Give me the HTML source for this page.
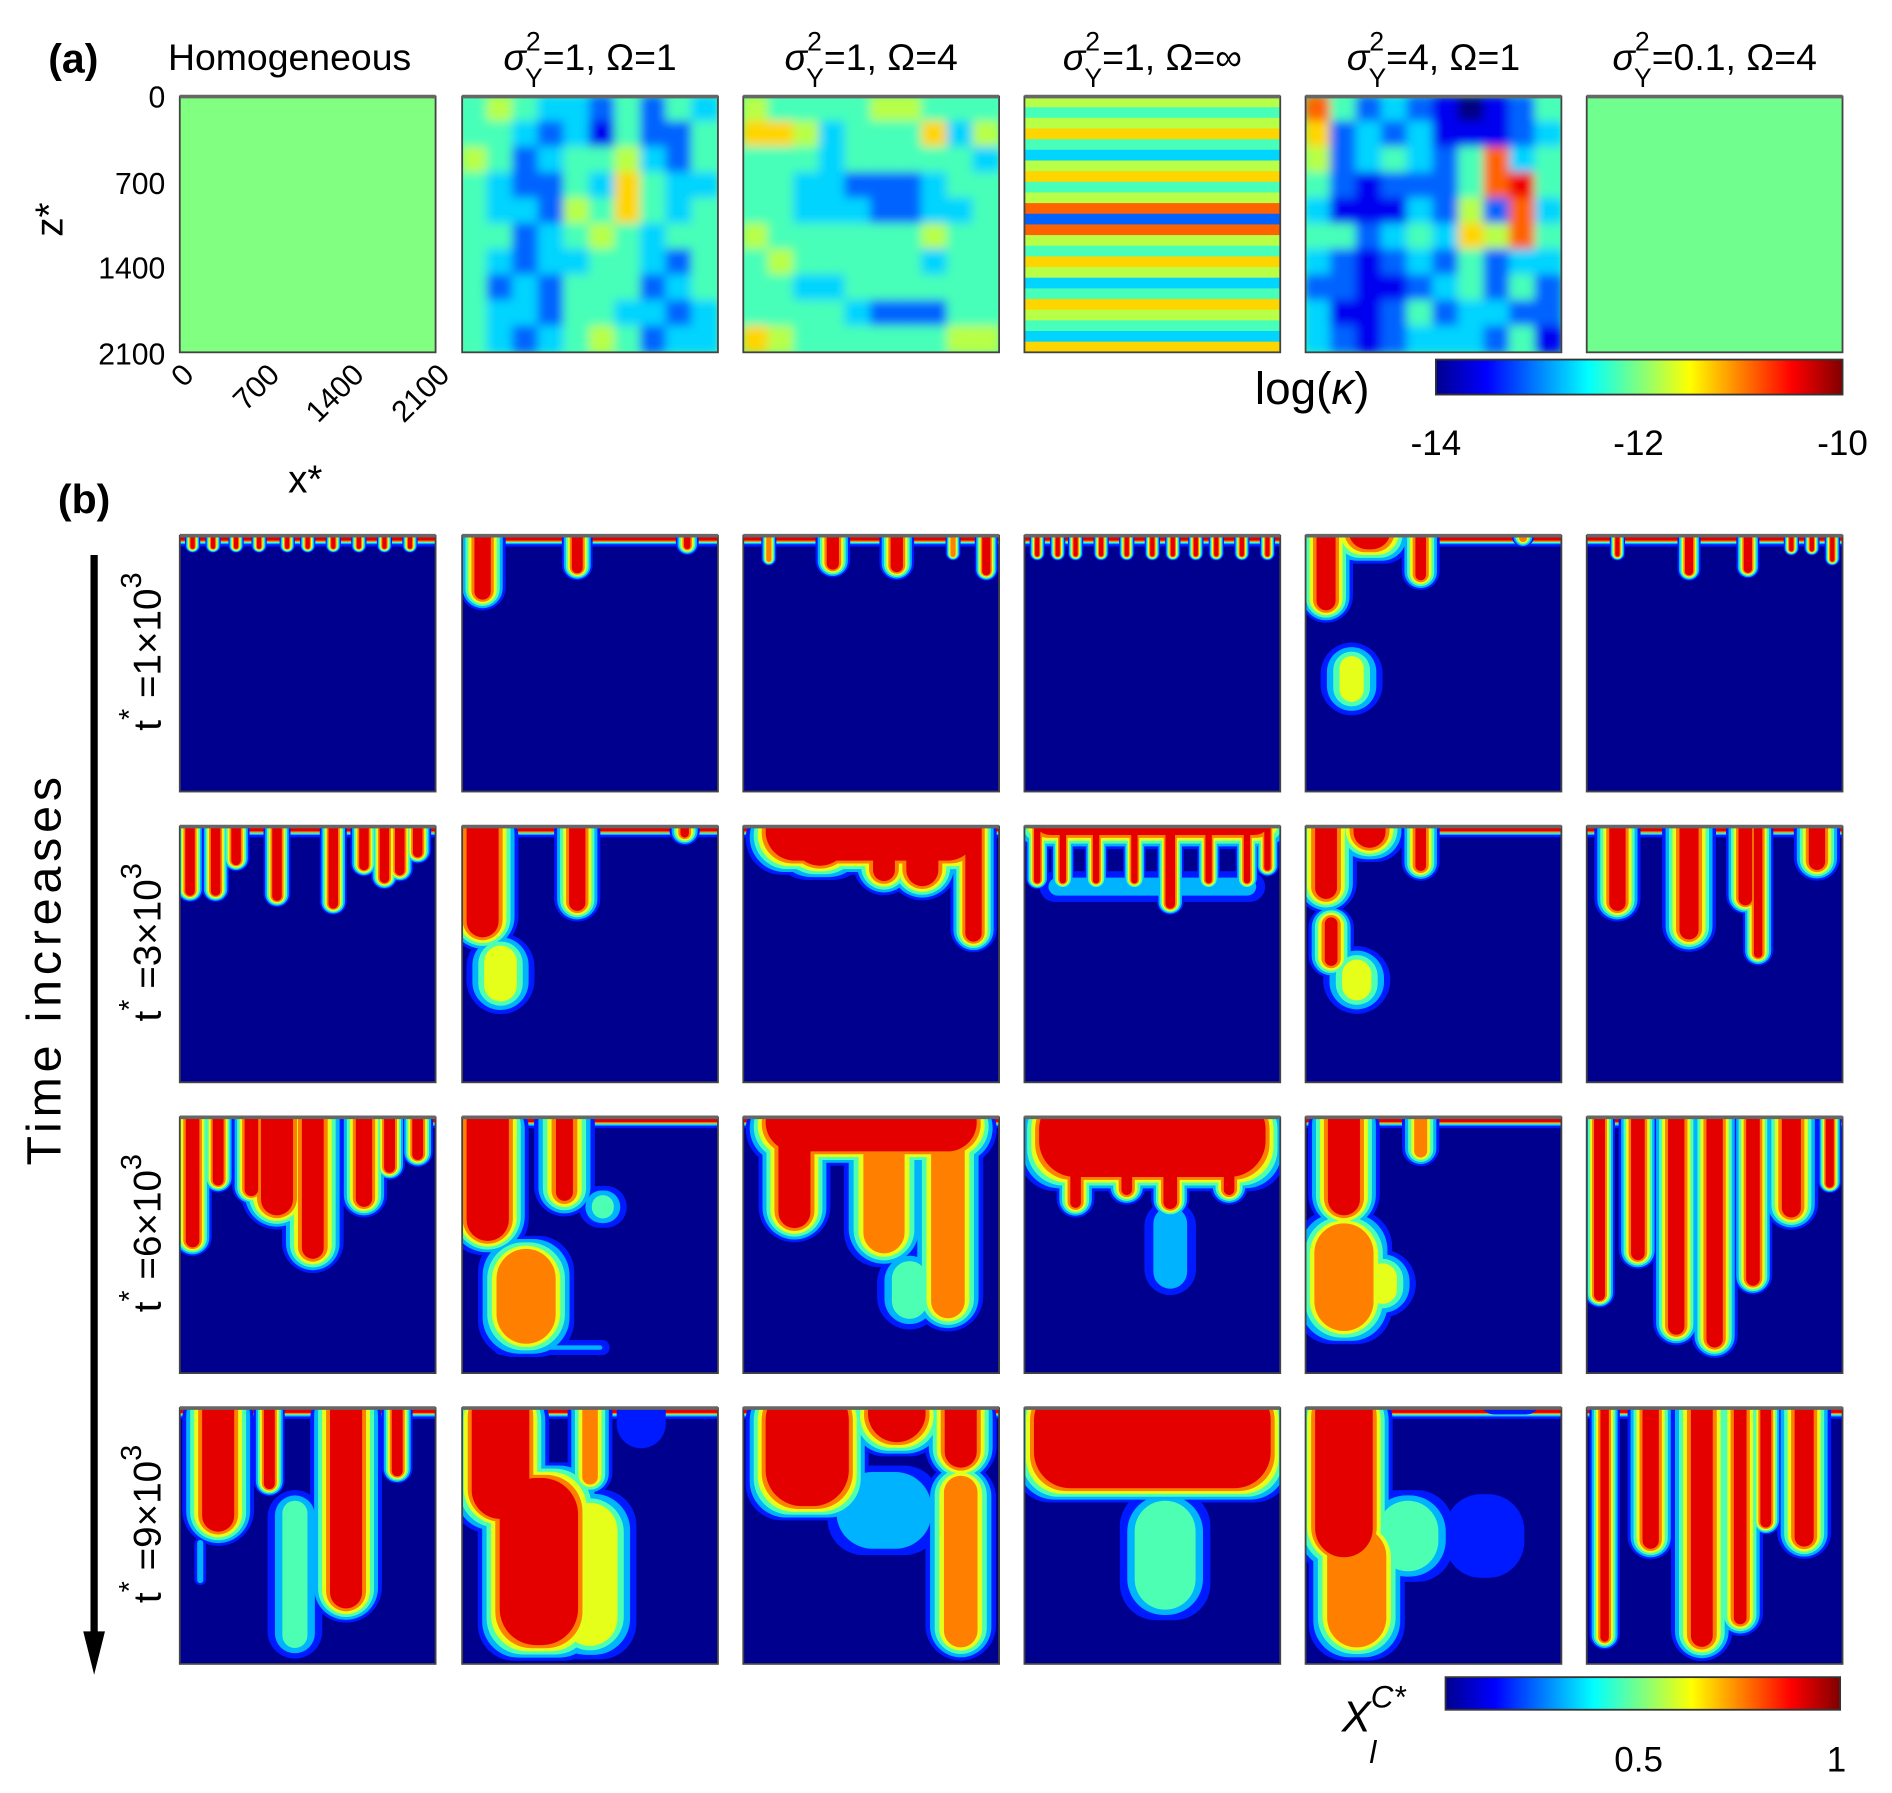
<!DOCTYPE html>
<html><head><meta charset="utf-8"><style>
html,body{margin:0;padding:0;background:#fff}
svg{display:block;font-family:"Liberation Sans",sans-serif}
</style></head><body>
<svg id="fig" width="1892" height="1793" viewBox="0 0 1568 1486" preserveAspectRatio="none" xmlns="http://www.w3.org/2000/svg">
<defs>
<linearGradient id="jetgrad" x1="0" x2="1" y1="0" y2="0">
<stop offset="0" stop-color="#00008f"/><stop offset="0.125" stop-color="#0000ff"/><stop offset="0.375" stop-color="#00ffff"/><stop offset="0.625" stop-color="#ffff00"/><stop offset="0.875" stop-color="#ff0000"/><stop offset="1" stop-color="#800000"/>
</linearGradient>
<filter id="soft" x="-5%" y="-5%" width="110%" height="110%"><feGaussianBlur stdDeviation="4"/></filter>
</defs>
<g id="panelsA"></g>
<g id="panelsB"></g>

<text x="40" y="60" font-size="34" font-weight="bold">(a)</text>
<text x="48" y="425" font-size="34" font-weight="bold">(b)</text>
<text x="240" y="58" font-size="31" text-anchor="middle">Homogeneous</text>
<g id="titles" font-size="31"></g>

<text transform="translate(52,182) rotate(-90)" font-size="32" text-anchor="middle">z*</text>
<g font-size="25" text-anchor="end">
<text x="137" y="89">0</text><text x="137" y="161">700</text><text x="137" y="231">1400</text><text x="137" y="302">2100</text>
</g>
<g font-size="25" text-anchor="end">
<text transform="translate(162,312) rotate(-45)">0</text>
<text transform="translate(233,312) rotate(-45)">700</text>
<text transform="translate(303,312) rotate(-45)">1400</text>
<text transform="translate(374,312) rotate(-45)">2100</text>
</g>
<text x="253" y="408" font-size="32" text-anchor="middle">x*</text>

<text x="1040" y="335" font-size="38">log(<tspan font-style="italic">κ</tspan>)</text>
<rect x="1190" y="298" width="337" height="29" fill="url(#jetgrad)" stroke="#333" stroke-width="1.5"/>
<g font-size="29" text-anchor="middle">
<text x="1190" y="377">-14</text><text x="1358" y="377">-12</text><text x="1527" y="377">-10</text>
</g>

<text x="1112" y="1435" font-size="36" font-style="italic">X<tspan font-size="26" dy="-20">C*</tspan><tspan font-size="26" dx="-30" dy="46">l</tspan></text>
<rect x="1198" y="1390" width="327" height="27" fill="url(#jetgrad)" stroke="#333" stroke-width="1.5"/>
<g font-size="29" text-anchor="middle">
<text x="1358" y="1468">0.5</text><text x="1522" y="1468">1</text>
</g>

<text transform="translate(50,805) rotate(-90)" font-size="40" text-anchor="middle" textLength="322">Time increases</text>
<line x1="78" y1="460" x2="78" y2="1360" stroke="#000" stroke-width="6"/>
<polygon points="69,1352 87,1352 78,1388" fill="#000"/>
<g id="rowlabels" font-size="32"></g>
</svg>
<script>
// ---------- data ----------
const columnTitles = ["=1, Ω=1","=1, Ω=4","=1, Ω=∞","=4, Ω=1","=0.1, Ω=4"];
const timeLabels = ["1","3","6","9"];
const fieldS1O1 = ["4543324243","4432314224","5423445324","4322436433","4332546434","4423454344","4323344324","4232444234","4332443323","4323454233"];
const fieldS1O4 = ["5444455444","6653444635","4443444443","4433222344","4433322334","5444444544","4544444344","4433444444","4444322244","6544444455"];
const fieldS4O1 = ["7423210124","6232311123","5234324734","4212224784","3111325273","4423436574","3212324233","2211234242","3112423322","3212333241"];
const fieldS01O4 = ["4444444444","4444444444","4444444444","4444444444","4444444444","4444444444","4444444444","4444444444","4444444444","4444444444"];
const stripesSInf = [5,4,5,6,4,3,5,6,4,5,7,2,7,5,4,6,5,3,4,6,5,4,3,6];
const homogeneousValue = 0.5;
// fingers: [xCenter, yStart, yEnd, halfWidth, maxLevel] as panel fractions
const fingersT1 = [
 [[.05,0,.07,.02,.9],[.13,0,.07,.02,.9],[.22,0,.07,.02,.9],[.31,0,.07,.02,.9],[.42,0,.07,.02,.9],[.5,0,.07,.02,.9],[.6,0,.07,.02,.9],[.7,0,.07,.02,.9],[.8,0,.07,.02,.9],[.9,0,.07,.02,.9]],
 [[.08,0,.3,.06,1],[.45,0,.18,.04,1],[.88,0,.08,.03,.9]],
 [[.1,0,.12,.02,.8],[.35,0,.17,.045,1],[.6,0,.18,.045,1],[.82,0,.1,.02,.8],[.95,0,.18,.03,1]],
 [[.05,0,.1,.02,.9],[.13,0,.1,.02,.9],[.2,0,.1,.02,.9],[.3,0,.1,.02,.9],[.4,0,.1,.02,.9],[.5,0,.1,.02,.9],[.58,0,.1,.02,.9],[.67,0,.1,.02,.9],[.75,0,.1,.02,.9],[.85,0,.1,.02,.9],[.95,0,.1,.02,.9]],
 [[.08,0,.35,.07,1],[.25,0,.12,.12,1],[.45,0,.22,.05,.9],[.18,.4,.72,.09,.6],[.85,0,.05,.03,.8]],
 [[.12,0,.1,.02,.9],[.4,0,.18,.03,1],[.63,0,.17,.03,1],[.8,0,.08,.02,.9],[.88,0,.08,.02,.9],[.96,0,.12,.02,.9]]
];
const fingersT3 = [
 [[.04,0,.3,.035,1],[.14,0,.3,.035,1],[.22,0,.18,.035,1],[.38,0,.32,.035,1],[.6,0,.35,.035,1],[.72,0,.2,.035,1],[.8,0,.25,.035,1],[.86,0,.22,.035,1],[.93,0,.15,.035,1]],
 [[.08,0,.5,.1,1],[.15,.4,.75,.1,.65],[.45,0,.38,.06,1],[.87,0,.08,.04,.9]],
 [[.5,0,.2,.45,1],[.3,0,.22,.15,1],[.55,0,.28,.08,1],[.7,0,.3,.1,1],[.9,0,.5,.06,1]],
 [[.5,.15,.32,.42,.4],[.5,0,.1,.5,1],[.05,0,.25,.03,.9],[.15,0,.25,.03,.9],[.28,0,.25,.03,.9],[.43,0,.25,.03,.9],[.57,0,.35,.035,1],[.72,0,.25,.03,.9],[.87,0,.25,.03,.9],[.95,0,.2,.03,.9]],
 [[.08,0,.35,.08,1],[.25,0,.15,.1,1],[.45,0,.22,.05,.9],[.1,.3,.6,.06,.9],[.2,.45,.75,.1,.6]],
 [[.12,0,.38,.06,1],[.4,0,.5,.07,1],[.62,0,.35,.05,1],[.67,0,.55,.04,.9],[.9,0,.22,.06,1]]
];
const fingersT6 = [
 [[.05,0,.55,.05,1],[.15,0,.3,.04,1],[.28,0,.35,.05,1],[.38,0,.45,.1,1],[.52,0,.62,.08,1],[.72,0,.4,.06,1],[.82,0,.25,.04,1],[.93,0,.2,.04,1]],
 [[.1,0,.55,.12,1],[.4,0,.4,.08,.9],[.55,.25,.45,.07,.5],[.25,.45,.95,.15,.85],[.35,.85,.95,.2,.5]],
 [[.5,0,.2,.45,1],[.2,0,.5,.1,1],[.55,0,.6,.12,.8],[.8,0,.85,.1,.85],[.65,.5,.85,.1,.5]],
 [[.5,0,.3,.48,1],[.57,.3,.72,.08,.4],[.2,0,.4,.05,.9],[.4,0,.35,.05,.9],[.57,0,.4,.05,1],[.8,0,.35,.05,.9]],
 [[.15,0,.45,.1,1],[.15,.35,.9,.15,.85],[.3,.5,.8,.1,.6],[.45,0,.2,.05,.8]],
 [[.05,0,.75,.04,1],[.2,0,.6,.05,1],[.35,0,.9,.06,1],[.5,0,.95,.06,1],[.65,0,.7,.05,1],[.8,0,.45,.07,1],[.95,0,.3,.03,1]]
];
const fingersT9 = [
 [[.15,0,.55,.1,1],[.35,0,.35,.04,1],[.65,0,.85,.1,1],[.45,.3,1,.08,.5],[.85,0,.3,.04,1],[.08,.5,.7,.02,.3]],
 [[.15,0,.5,.15,1],[.3,.2,1,.2,.9],[.5,.3,1,.15,.6],[.5,0,.35,.06,.8],[.7,0,.2,.1,.2]],
 [[.25,0,.45,.2,1],[.6,0,.2,.15,1],[.55,.2,.6,.2,.4],[.85,.2,1,.1,.85],[.85,0,.3,.1,1]],
 [[.5,0,.38,.5,1],[.55,.3,.85,.15,.5]],
 [[.15,0,.65,.15,1],[.2,.4,1,.15,.85],[.4,.3,.7,.15,.5],[.7,.3,.7,.15,.25],[.8,0,.05,.1,.4]],
 [[.07,0,.95,.04,.9],[.25,0,.6,.06,1],[.45,0,1,.08,1],[.6,0,.9,.06,.9],[.85,0,.6,.07,1],[.7,0,.5,.04,1]]
];
// ---------- rendering ----------
const NS="http://www.w3.org/2000/svg";
const colX=[149,383,616,849,1082,1315], PW=212, PH=212, rowAY=80, rowBY=[444,685,926,1167];
const levels=[0.15,0.3,0.45,0.6,0.75,0.9];
function jet(v){const c=x=>Math.max(0,Math.min(1,x));
 const r=c(1.5-Math.abs(4*v-3)),g=c(1.5-Math.abs(4*v-2)),b=c(1.5-Math.abs(4*v-1));
 return `rgb(${Math.round(r*255)},${Math.round(g*255)},${Math.round(b*255)})`;}
function mk(tag,attrs,parent){const e=document.createElementNS(NS,tag);for(const k in attrs)e.setAttribute(k,attrs[k]);if(parent)parent.appendChild(e);return e;}
let clipN=0;
function panelGroup(parent,x,y,name){
 const id="cp"+(clipN++);
 const cp=mk("clipPath",{id:id},document.querySelector("defs"));
 mk("rect",{x:x,y:y,width:PW,height:PH},cp);
 const g=mk("g",{"clip-path":`url(#${id})`},parent);
 
 
 return g;
}
function border(parent,x,y){
 const r=mk("rect",{x:x,y:y,width:PW,height:PH,fill:"none",stroke:"#444","stroke-width":1.5},parent);
 
 
 mk("line",{x1:x,y1:y,x2:x+PW,y2:y,stroke:"#666","stroke-width":3},parent);
}
const A=document.getElementById("panelsA");
{const g=panelGroup(A,colX[0],rowAY,"field-homogeneous");
 mk("rect",{x:colX[0],y:rowAY,width:PW,height:PH,fill:jet(homogeneousValue)},g); border(A,colX[0],rowAY);}
function gridPanel(ci,grid,name){
 const x0=colX[ci],g=panelGroup(A,x0,rowAY,name);
 mk("rect",{x:x0,y:rowAY,width:PW,height:PH,fill:jet(0.45)},g);
 const inner=mk("g",{filter:"url(#soft)"},g);
 const nr=grid.length,nc=grid[0].length,cw=PW/nc,ch=PH/nr;
 for(let i=0;i<nr;i++)for(let j=0;j<nc;j++){
  const v=parseInt(grid[i][j])/9;
  const c=mk("rect",{x:x0+j*cw-1,y:rowAY+i*ch-1,width:cw+2,height:ch+2,fill:jet(v)},inner);
  
  
 }
 border(A,x0,rowAY);
}
gridPanel(1,fieldS1O1,"field-s1-o1");
gridPanel(2,fieldS1O4,"field-s1-o4");
{const x0=colX[3],g=panelGroup(A,x0,rowAY,"field-s1-oinf");const sh=PH/stripesSInf.length;
 stripesSInf.forEach((d,i)=>{const s=mk("rect",{x:x0,y:rowAY+i*sh,width:PW,height:sh+0.5,fill:jet(d/9)},g);
  
  });
 border(A,x0,rowAY);}
gridPanel(4,fieldS4O1,"field-s4-o1");
{const x0=colX[5],g=panelGroup(A,x0,rowAY,"field-s01-o4");
 const nr=fieldS01O4.length,nc=fieldS01O4[0].length;
 for(let i=0;i<nr;i++)for(let j=0;j<nc;j++){
  const v=parseInt(fieldS01O4[i][j])/9+0.04;
  const c=mk("rect",{x:x0+j*PW/nc,y:rowAY+i*PH/nr,width:PW/nc+0.5,height:PH/nr+0.5,fill:jet(v)},g);
  
  
 }
 border(A,x0,rowAY);}
const T=document.getElementById("titles");
columnTitles.forEach((t,i)=>{
 const cx=colX[i+1]+PW/2;
 const tx=mk("text",{x:cx,y:58,"text-anchor":"middle"},T);
 
 
 tx.innerHTML=`<tspan font-style="italic">σ</tspan><tspan font-size="22" dy="-16">2</tspan><tspan font-size="22" dx="-13" dy="30">Y</tspan><tspan dy="-14">${t}</tspan>`;
});
const B=document.getElementById("panelsB");
const rowsF=[fingersT1,fingersT3,fingersT6,fingersT9];
rowsF.forEach((row,ri)=>{
 const y0p=rowBY[ri];
 row.forEach((fingers,ci)=>{
  const x0p=colX[ci];
  const g=panelGroup(B,x0p,y0p,`concentration-t${timeLabels[ri]}-col${ci+1}`);
  mk("rect",{x:x0p,y:y0p,width:PW,height:PH,fill:"#00008f"},g);
  [[.15,9],[.3,7],[.45,6],[.75,5],[.9,4]].forEach(([L,h])=>mk("rect",{x:x0p,y:y0p,width:PW,height:h,fill:jet(L)},g));
  levels.forEach(L=>{
   fingers.forEach(f=>{
    const [cx,ys,ye,hw,I]=f; if(L>I)return;
    const frac=1-L/(I+0.08);
    const hc=Math.min(hw,0.08);
    const hwk=(hw+(frac-0.5)*hc*1.4)*PW;
    const shrink=(1-frac)*hc*1.0*PW;
    const top=ys===0?-20:ys*PH+shrink, bot=ye*PH-shrink;
    if(bot<=top+1||hwk<=0.5)return;
    const r=mk("rect",{x:x0p+cx*PW-hwk,y:y0p+top,width:2*hwk,height:bot-top,rx:Math.min(hwk,(bot-top)/2,30),fill:jet(L)},g);
    
    
   });
  });
  border(B,x0p,y0p);
 });
});
const RL=document.getElementById("rowlabels");
timeLabels.forEach((t,ri)=>{
 const cy=rowBY[ri]+PH/2-10;
 const tx=mk("text",{transform:`translate(133,${cy}) rotate(-90)`,"text-anchor":"middle"},RL);
 
 
 tx.innerHTML=`t<tspan font-size="24" dy="-18">*</tspan><tspan dy="18"> =${t}×10</tspan><tspan font-size="24" dy="-16">3</tspan>`;
});
</script>
</body></html>
